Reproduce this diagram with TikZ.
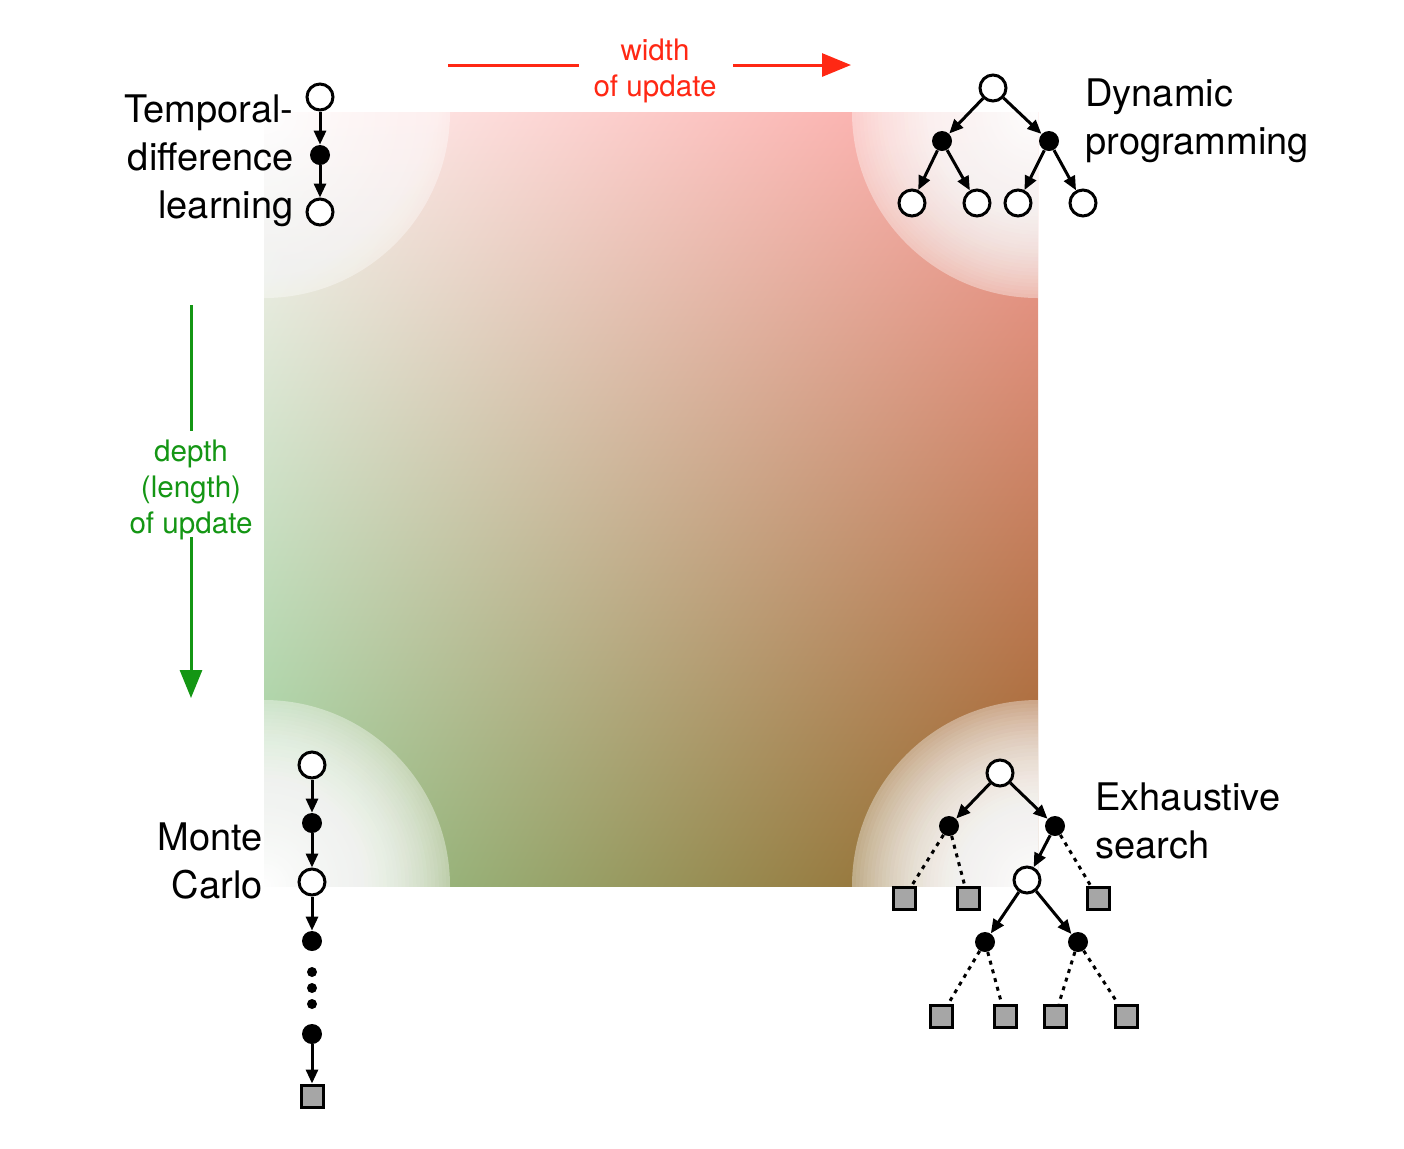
\documentclass[tikz,border=0pt]{standalone}
\usepackage{fontspec}
\setmainfont{TeX Gyre Heros}
\usetikzlibrary{arrows.meta}
\definecolor{wred}{RGB}{255,40,20}
\definecolor{dgreen}{RGB}{20,150,20}
\pgfdeclarefunctionalshading{bilin}{\pgfpoint{-25bp}{-25bp}}{\pgfpoint{25bp}{25bp}}{}{
25 exch sub 50 div exch 25 add 50 div exch
1 index -0.0157 mul 1 index -0.4 mul add 2 index 2 index mul 0.0157 mul add 0.996 add
2 index -0.329 mul 2 index -0.157 mul add 3 index 3 index mul -0.094 mul add 0.957 add
3 index -0.345 mul 3 index -0.376 mul add 4 index 4 index mul -0.094 mul add 0.957 add
5 -2 roll pop pop
}
\tikzset{
  open/.style={circle, draw, line width=1.5pt, fill=white, minimum size=13pt, inner sep=0pt},
  dot/.style={circle, fill=black, minimum size=10pt, inner sep=0pt},
  term/.style={rectangle, draw, line width=1.5pt, fill=black!35, minimum size=11pt, inner sep=0pt},
  arr/.style={line width=1.5pt, -{Triangle[length=7pt,width=6pt]}},
  dotl/.style={line width=1.5pt, dash pattern=on 2pt off 2.5pt},
  lbl/.style={font=\fontsize{19}{24}\selectfont, inner sep=0pt},
  axlbl/.style={font=\fontsize{14.8}{18}\selectfont, inner sep=0pt, align=center},
}
\begin{document}
\begin{tikzpicture}[x=0.5pt,y=-0.5pt]
\fill[white] (0,0) rectangle (1404,1148);
\useasboundingbox (0,0) rectangle (1404,1148);
% background gradient square
\shade[shading=bilin] (264,112) rectangle (1038,886);
\begin{scope}
  \clip (264,112) rectangle (1038,886);
  \foreach \cx/\cy in {264/112,1038/112,264/886,1038/886}{
    \fill[white, fill opacity=0.38] (\cx,\cy) circle (186);
    \foreach \k in {1,...,49}{
      \pgfmathsetmacro{\op}{1-(\k/(\k+1))^3}
      \fill[white, fill opacity=\op] (\cx,\cy) circle ({\k*186/50});
    }
  }
\end{scope}

% width of update
\coordinate (ra) at (448,65);
\coordinate (rb) at (579,65);
\coordinate (rc) at (733,65);
\coordinate (rd) at (851,65);
\draw[wred, line width=1.5pt] (ra) -- (rb);
\draw[wred, line width=1.5pt, -{Triangle[length=14.5pt,width=11.5pt]}] (rc) -- (rd);
\node[axlbl, text=wred] (wl) at (655,71) {width\\of update};

% depth of update
\coordinate (ga) at (191,305);
\coordinate (gb) at (191,431);
\coordinate (gc) at (191,537);
\coordinate (gd) at (191,698);
\draw[dgreen, line width=1.5pt] (ga) -- (gb);
\draw[dgreen, line width=1.5pt, -{Triangle[length=14pt,width=11pt]}] (gc) -- (gd);
\node[axlbl, text=dgreen] (dl) at (191,490) {depth\\(length)\\of update};

% Temporal-difference learning
\node[open] (t1) at (320,97) {};
\node[dot] (t2) at (320,155) {};
\node[open] (t3) at (320,212) {};
\draw[arr] (t1) -- (t2);
\draw[arr] (t2) -- (t3);
\node[lbl, align=right, anchor=east] (tdl) at (294,161) {Temporal-\\difference\\learning};

% Dynamic programming
\node[open] (d0) at (993,88) {};
\node[dot] (d1) at (942,141) {};
\node[dot] (d2) at (1049,141) {};
\node[open] (d3) at (912,203) {};
\node[open] (d4) at (977,203) {};
\node[open] (d5) at (1018,203) {};
\node[open] (d6) at (1083,203) {};
\draw[arr] (d0) -- (d1);
\draw[arr] (d0) -- (d2);
\draw[arr] (d1) -- (d3);
\draw[arr] (d1) -- (d4);
\draw[arr] (d2) -- (d5);
\draw[arr] (d2) -- (d6);
\node[lbl, align=left, anchor=west] (dpl) at (1085,121) {Dynamic\\programming};

% Monte Carlo
\node[open] (m1) at (312,765) {};
\node[dot] (m2) at (312,823) {};
\node[open] (m3) at (312,882) {};
\node[dot] (m4) at (312,941) {};
\node[dot, minimum size=5pt] (e1) at (312,972) {};
\node[dot, minimum size=5pt] (e2) at (312,988) {};
\node[dot, minimum size=5pt] (e3) at (312,1004) {};
\node[dot] (m5) at (312,1034) {};
\node[term] (m6) at (312,1096) {};
\draw[arr] (m1) -- (m2);
\draw[arr] (m2) -- (m3);
\draw[arr] (m3) -- (m4);
\draw[arr] (m5) -- (m6);
\node[lbl, align=right, anchor=east] (mcl) at (263,861) {Monte\\Carlo};

% Exhaustive search
\node[open] (x0) at (1000,773) {};
\node[dot] (x1) at (949,826) {};
\node[dot] (x2) at (1055,826) {};
\node[term] (x3) at (904,898) {};
\node[term] (x4) at (968,898) {};
\node[open] (x5) at (1027,880) {};
\node[term] (x6) at (1098,898) {};
\node[dot] (x7) at (985,942) {};
\node[dot] (x8) at (1078,942) {};
\node[term] (x9) at (941,1016) {};
\node[term] (x10) at (1005,1016) {};
\node[term] (x11) at (1055,1016) {};
\node[term] (x12) at (1126,1016) {};
\draw[arr] (x0) -- (x1);
\draw[arr] (x0) -- (x2);
\draw[dotl] (x1) -- (x3);
\draw[dotl] (x1) -- (x4);
\draw[arr] (x2) -- (x5);
\draw[dotl] (x2) -- (x6);
\draw[arr] (x5) -- (x7);
\draw[arr] (x5) -- (x8);
\draw[dotl] (x7) -- (x9);
\draw[dotl] (x7) -- (x10);
\draw[dotl] (x8) -- (x11);
\draw[dotl] (x8) -- (x12);
\node[lbl, align=left, anchor=west] (esl) at (1095,821) {Exhaustive\\search};
\end{tikzpicture}
\end{document}
